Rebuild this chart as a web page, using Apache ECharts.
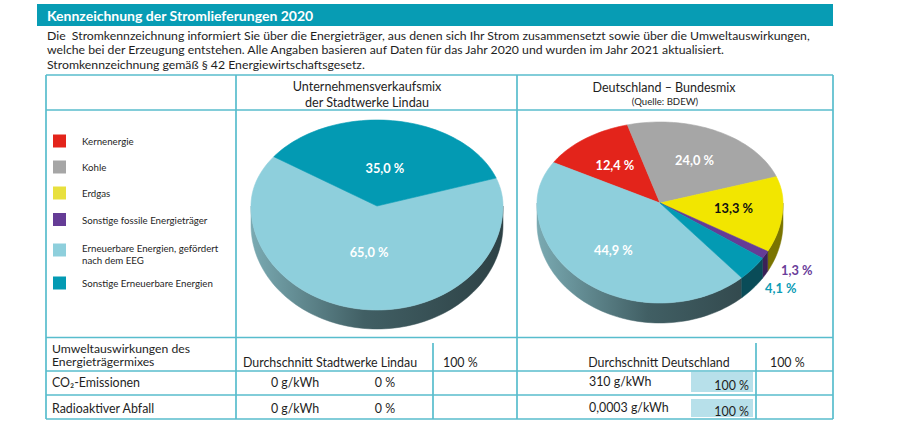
<!DOCTYPE html>
<html><head><meta charset="utf-8">
<script src="https://cdn.jsdelivr.net/npm/echarts@6/dist/echarts.min.js"></script>
<style>html,body{margin:0;padding:0;background:#fff;}#c{width:900px;height:429px;}</style>
</head><body><div id="c"></div>
<script>
// ---------- data ----------
const title = 'Kennzeichnung der Stromlieferungen 2020';
const introLines = [
  'Die\u00a0 Stromkennzeichnung informiert Sie über die Energieträger, aus denen sich Ihr Strom zusammensetzt sowie über die Umweltauswirkungen,',
  'welche bei der Erzeugung entstehen. Alle Angaben basieren auf Daten für das Jahr 2020 und wurden im Jahr 2021 aktualisiert.',
  'Stromkennzeichnung gemäß § 42 Energiewirtschaftsgesetz.'
];
const categories = ['Kernenergie', 'Kohle', 'Erdgas', 'Sonstige fossile Energieträger',
  'Erneuerbare Energien, gefördert\nnach dem EEG', 'Sonstige Erneuerbare Energien'];
const lindauValues = [0, 0, 0, 0, 65.0, 35.0];
const germanyValues = [12.4, 24.0, 13.3, 1.3, 44.9, 4.1];
const pieTitles = ['Unternehmensverkaufsmix\nder Stadtwerke Lindau', 'Deutschland – Bundesmix'];
const germanySource = '(Quelle: BDEW)';
const impactTitle = ['Umweltauswirkungen des', 'Energieträgermixes'];
const averageLabels = ['Durchschnitt Stadtwerke Lindau', 'Durchschnitt Deutschland'];
const impactRows = ['CO₂-Emissionen', 'Radioaktiver Abfall'];
const lindauImpact = [0, 0];          // g/kWh
const germanyImpact = [310, 0.0003];  // g/kWh
const referencePct = 100;

// ---------- style ----------
const drawOrder = [0, 1, 2, 3, 5, 4];
const colors = ['#e3241b', '#a6a6a6', '#f2e600', '#653c96', '#8ecfdc', '#039ab3'];
const legendColors = ['#e3241b', '#a6a6a6', '#e8e03e', '#653c96', '#8ecfdc', '#039ab3'];
const sideColors = ['#7d1611', '#5c5c5c', '#7a7400', '#3a2257', null, '#0a4c58'];
const insideLabelColors = ['#fff', '#fff', '#111', '#fff', '#fff', '#fff'];
const outsideLabelColors = ['#e3241b', '#7a7a7a', '#8a8200', '#6a3d9a', '#4aa9bb', '#0c9cb5'];
const lineColor = '#58bdcd';
const textColor = '#1e1e1e';
const FF = 'Lato, "Open Sans", sans-serif';

const fmtPct = v => v.toFixed(1).replace('.', ',') + ' %';
const fmtNum = v => String(v).replace('.', ',');

function makePie(values, cfg) {
  const total = values.reduce((a, b) => a + b, 0);
  const ang = [];
  let a = cfg.start;
  drawOrder.forEach(ci => { const s = values[ci] / total * 360; ang[ci] = [a - s, a]; a -= s; });
  const ry = s => (s >= 0 ? cfg.ryU : cfg.ryD);
  const pt = (t, dy) => { const r = t * Math.PI / 180; const s = Math.sin(r);
    return [cfg.cx + cfg.rx * Math.cos(r), cfg.cy - ry(s) * s + (dy || 0)]; };
  const arc = (t1, t2, dy) => { const n = Math.max(2, Math.ceil(Math.abs(t2 - t1) / 2)); const p = [];
    for (let k = 0; k <= n; k++) p.push(pt(t1 + (t2 - t1) * k / n, dy)); return p; };
  const sideFill = ci => sideColors[ci] || {
    type: 'linear', x: cfg.cx - cfg.rx, y: 0, x2: cfg.cx + cfg.rx, y2: 0, global: true,
    colorStops: [{offset: 0, color: '#7aaab2'}, {offset: 0.45, color: '#415f64'}, {offset: 1, color: '#2d4145'}]
  };
  return {
    type: 'custom', coordinateSystem: 'none', silent: true, animation: false,
    data: values,
    renderItem: (params) => {
      const ci = params.dataIndex; const v = values[ci];
      if (!v) return null;
      const [lo, hi] = ang[ci];
      const children = [];
      for (let k = -2; k <= 1; k++) {
        const s0 = Math.max(lo, 180 + 360 * k), s1 = Math.min(hi, 360 + 360 * k);
        if (s1 > s0) children.push({ type: 'polygon', z2: 1,
          shape: { points: arc(s0, s1, 0).concat(arc(s1, s0, cfg.depth)) },
          style: { fill: sideFill(ci), stroke: sideFill(ci), lineWidth: 0.5 } });
      }
      children.push({ type: 'polygon', z2: 2, shape: { points: [[cfg.cx, cfg.cy]].concat(arc(hi, lo, 0)) },
        style: { fill: colors[ci], stroke: colors[ci], lineWidth: 0.6 } });
      const mid = (lo + hi) / 2, outside = v < 5, f = outside ? cfg.outR : cfg.inR;
      const r = mid * Math.PI / 180, s = Math.sin(r);
      children.push({ type: 'text', z2: 100,
        x: cfg.cx + cfg.rx * f * Math.cos(r), y: cfg.cy - ry(s) * f * s,
        style: { text: fmtPct(v), fill: outside ? outsideLabelColors[ci] : insideLabelColors[ci],
          font: 'bold 12.8px ' + FF, align: 'center', verticalAlign: 'middle' } });
      return { type: 'group', children };
    }
  };
}

// ---------- layout ----------
const L = { left: 46, right: 833, top: 75, head: 110, c1: 236, c2: 517,
  imp: 337.5, r1: 371, r2: 395, bottom: 419, s1: 433, s2: 756, sTop: 343 };
const g = [];
const txt = (x, y, text, font, opt) => g.push(Object.assign({ type: 'text', x, y, z: 10,
  style: Object.assign({ text, font, fill: textColor, align: 'left', verticalAlign: 'middle' }, opt || {}) }));
const line = (x1, y1, x2, y2) => g.push({ type: 'line', z: 5, shape: { x1, y1, x2, y2 },
  style: { stroke: lineColor, lineWidth: 1.7 } });

// title bar
g.push({ type: 'rect', shape: { x: 37, y: 4, width: 796, height: 22 }, style: { fill: '#079cb4' } });
txt(47, 15.5, title, 'bold 14px ' + FF, { fill: '#fff' });
introLines.forEach((t, i) => txt(47, 35 + i * 14.6, t, '12.25px ' + FF));

// table lines
[L.top, L.head, L.imp, L.r1, L.r2, L.bottom].forEach(y => line(L.left, y, L.right, y));
[L.left, L.c1, L.c2, L.right].forEach(x => line(x, L.top, x, L.bottom));
[L.s1, L.s2].forEach(x => line(x, L.sTop, x, L.bottom));

// headers
const TF = '12.4px ' + FF;
txt(367, 94, pieTitles[0], '12.6px ' + FF, { align: 'center', lineHeight: 16 });
txt(664, 87, pieTitles[1], '12.5px ' + FF, { align: 'center' });
txt(665, 101, germanySource, '9.6px ' + FF, { align: 'center' });

// legend
const legendY = [141, 167, 193, 219.5, 250, 283];
categories.forEach((c, i) => {
  g.push({ type: 'rect', shape: { x: 53, y: legendY[i] - 6.5, width: 13, height: 13 }, style: { fill: legendColors[i] } });
  txt(82, legendY[i] + (i === 4 ? 4 : 0), c, '9.7px ' + FF, { lineHeight: 12.5 });
});

// impact table
impactTitle.forEach((t, i) => txt(52, 348 + i * 13.5, t, '12.2px ' + FF));
txt(330, 362, averageLabels[0], TF, { align: 'center' });
txt(443, 362, fmtNum(referencePct) + ' %', TF);
txt(659, 362, averageLabels[1], TF, { align: 'center' });
txt(770, 362, fmtNum(referencePct) + ' %', TF);
const rowY = [382, 408];
impactRows.forEach((r, i) => {
  txt(52, rowY[i], r, TF);
  txt(295, rowY[i], fmtNum(lindauImpact[i]) + ' g/kWh', TF, { align: 'center' });
  txt(385, rowY[i], fmtNum(Math.round(lindauImpact[i] / germanyImpact[i] * referencePct)) + ' %', TF, { align: 'center' });
  txt(589, rowY[i] - 1, fmtNum(germanyImpact[i]) + ' g/kWh', TF);
  g.push({ type: 'rect', z: 3, shape: { x: 691, y: i ? 399 : 372, width: 62, height: i ? 18 : 20 }, style: { fill: '#b7e0ea' } });
  txt(749, rowY[i] + 3.5, fmtNum(Math.round(germanyImpact[i] / germanyImpact[i] * referencePct)) + ' %', TF, { align: 'right' });
});

const chart = echarts.init(document.getElementById('c'), null, { renderer: 'svg' });
chart.setOption({
  animation: false,
  graphic: g,
  series: [
    makePie(lindauValues, { cx: 377, cy: 206, rx: 126, ryU: 86, ryD: 104, depth: 19, start: 145, inR: 0.45, outR: 1.3 }),
    makePie(germanyValues, { cx: 660, cy: 203, rx: 123, ryU: 81, ryD: 100, depth: 20, start: 150, inR: 0.6, outR: 1.3 })
  ]
});
</script></body></html>
